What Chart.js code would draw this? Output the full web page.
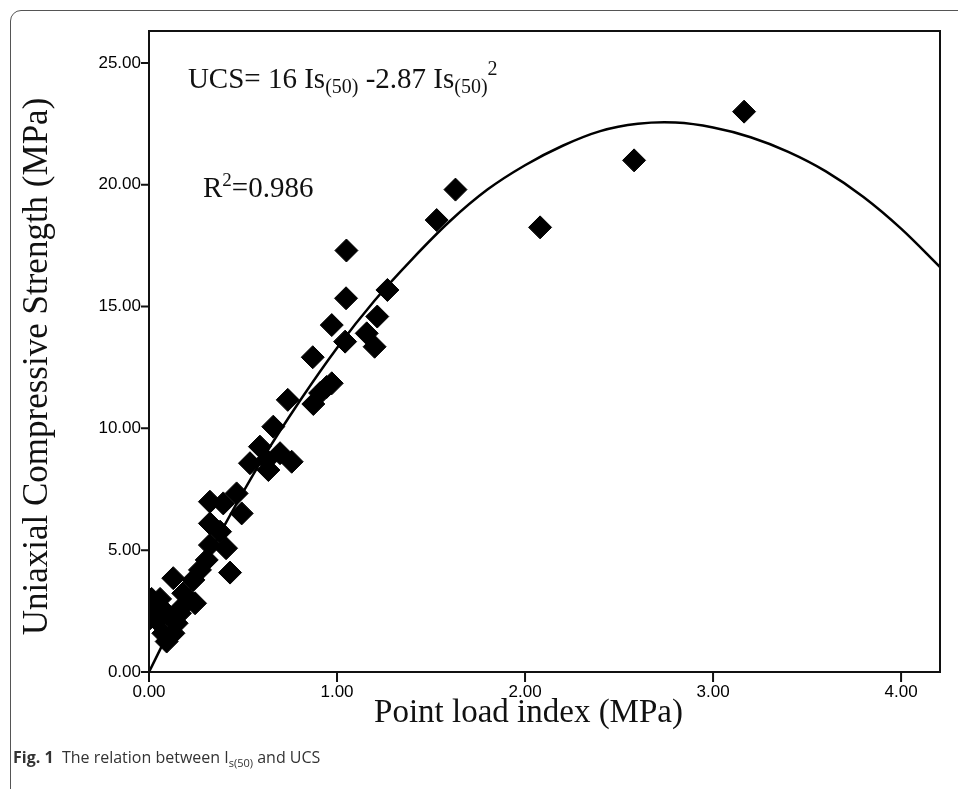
<!DOCTYPE html>
<html>
<head>
<meta charset="utf-8">
<script src="https://cdn.jsdelivr.net/npm/chart.js@4.4.1/dist/chart.umd.min.js"></script>
<style>
  body { margin: 0; background: #fff; }
  #frame { position: absolute; left: 10px; top: 10px; width: 1000px; height: 900px;
           border: 1.5px solid #555; border-radius: 11px; }
  #chart { position: absolute; left: 0; top: 0; }
  #caption { position: absolute; left: 13px; top: 746px; font-family: "Open Sans", sans-serif;
             font-size: 16px; color: #333; }
  #caption sub { font-size: 11px; }
</style>
</head>
<body>
<div id="frame"></div>
<canvas id="chart" width="958" height="789"></canvas>
<div id="caption"><b>Fig. 1</b>&nbsp; The relation between I<sub>s(50)</sub> and UCS</div>
<script>
// measured points: point load index Is(50) (MPa) vs UCS (MPa)
var isValues = [3.165, 2.58, 2.08, 1.63, 1.53, 1.05, 1.048, 1.268, 1.214, 1.158, 1.2, 0.972, 1.043,
  0.871, 0.972, 0.91, 0.874, 0.945, 0.738, 0.661, 0.59, 0.537, 0.635, 0.697, 0.759, 0.626,
  0.324, 0.466, 0.395, 0.493, 0.324, 0.378, 0.324, 0.41, 0.431, 0.307, 0.271, 0.129, 0.236,
  0.245, 0.182, 0.023, 0.059, 0.094, 0.147, 0.13, 0.094, 0.04, 0.005, 0.165, 0.076, 0.014, 0.18];
var ucsValues = [23.0, 21.0, 18.25, 19.8, 18.55, 17.3, 15.34, 15.68, 14.59, 13.9, 13.35, 14.24, 13.56,
  12.92, 11.85, 11.45, 11.0, 11.7, 11.17, 10.07, 9.25, 8.57, 8.29, 8.98, 8.63, 8.7,
  6.99, 7.33, 6.92, 6.51, 6.1, 5.76, 5.21, 5.08, 4.08, 4.6, 4.19, 3.85, 3.78,
  2.82, 3.23, 2.68, 3.0, 2.41, 2.0, 1.59, 1.25, 2.13, 2.2, 2.41, 1.59, 3.0, 2.7];

// fitted curve as drawn
var curveX = [0, 0.2, 0.4, 0.6, 0.8, 1.0, 1.2, 1.4, 1.6, 1.8, 2.0, 2.2, 2.4, 2.6, 2.8, 3.0, 3.2, 3.4, 3.6, 3.8, 4.0, 4.21];
var curveY = [0, 3.1, 6.0, 8.7, 11.1, 13.3, 15.25, 16.95, 18.5, 19.8, 20.8, 21.6, 22.2, 22.5, 22.55, 22.35, 21.95, 21.35, 20.55, 19.5, 18.2, 16.6];

var xTicks = [0, 1, 2, 3, 4];
var yTicks = [0, 5, 10, 15, 20, 25];

var xTitle = 'Point load index (MPa)';
var yTitle = 'Uniaxial Compressive Strength (MPa)';

function toPoints(xs, ys) {
    var pts = [];
    for (var i = 0; i < xs.length; i++) {
        pts.push({x: xs[i], y: ys[i]});
    }
    return pts;
}

function drawParts(ctx, x, y, parts) {
    for (var k = 0; k < parts.length; k++) {
        var p = parts[k];
        ctx.font = p[1] + 'px "Liberation Serif"';
        ctx.fillText(p[0], x, y + p[2]);
        x += ctx.measureText(p[0]).width;
    }
}

var framePlugin = {
    id: 'framePlugin',
    afterDraw: function(chart) {
        var ctx = chart.ctx;
        var a = chart.chartArea;
        var sx = chart.scales.x, sy = chart.scales.y;
        ctx.save();
        ctx.strokeStyle = '#111';
        ctx.lineWidth = 2;
        ctx.strokeRect(a.left, a.top, a.right - a.left, a.bottom - a.top);
        // tick marks outside the frame
        ctx.beginPath();
        xTicks.forEach(function(v) {
            var px = sx.getPixelForValue(v);
            ctx.moveTo(px, a.bottom);
            ctx.lineTo(px, a.bottom + 10);
        });
        yTicks.forEach(function(v) {
            var py = sy.getPixelForValue(v);
            ctx.moveTo(a.left, py);
            ctx.lineTo(a.left - 8, py);
        });
        ctx.stroke();

        ctx.fillStyle = '#111';
        ctx.textBaseline = 'alphabetic';
        ctx.textAlign = 'left';
        drawParts(ctx, sx.getPixelForValue(0.207), sy.getPixelForValue(23.97), [
            ['UCS= 16 Is', 29, 0], ['(50)', 20, 5], [' -2.87 Is', 29, 0], ['(50)', 20, 5], ['2', 20, -13]
        ]);
        drawParts(ctx, sx.getPixelForValue(0.287), sy.getPixelForValue(19.5), [
            ['R', 29, 0], ['2', 19, -11], ['=0.986', 29, 0]
        ]);
        // axis titles
        ctx.textAlign = 'center';
        ctx.textBaseline = 'middle';
        ctx.font = '33px "Liberation Serif"';
        ctx.fillText(xTitle, (a.left + a.right) / 2 - 16, a.bottom + 41);
        ctx.translate(38, (a.top + a.bottom) / 2 + 15);
        ctx.rotate(-Math.PI / 2);
        ctx.font = '35px "Liberation Serif"';
        ctx.fillText(yTitle, 0, 0);
        ctx.restore();
    }
};

var tickFont = {family: '"Liberation Sans"', size: 17};

var ctx = document.getElementById('chart');
var chart = new Chart(ctx, {
    type: 'scatter',
    data: {
        datasets: [{
            label: 'UCS',
            data: toPoints(isValues, ucsValues),
            pointStyle: 'rectRot',
            pointRadius: 11.5,
            pointHoverRadius: 11.5,
            backgroundColor: '#000',
            borderColor: '#000',
            borderWidth: 1,
            clip: 0
        }, {
            type: 'line',
            label: 'fit',
            data: toPoints(curveX, curveY),
            borderColor: '#000',
            borderWidth: 2.5,
            pointRadius: 0,
            tension: 0.35,
            fill: false
        }]
    },
    options: {
        responsive: false,
        animation: false,
        devicePixelRatio: 1,
        layout: { padding: {top: 31, right: 18, left: 0, bottom: 0} },
        plugins: { legend: {display: false}, tooltip: {enabled: false} },
        scales: {
            x: {
                type: 'linear',
                min: 0,
                max: 4.207,
                afterFit: function(scale) { scale.height = 117; },
                afterBuildTicks: function(scale) {
                    scale.ticks = xTicks.map(function(v) { return {value: v}; });
                },
                grid: { display: false, tickLength: 10 },
                border: { display: true, color: '#111', width: 2 },
                ticks: { font: tickFont, color: '#000', padding: 0, maxRotation: 0,
                         callback: function(v) { return v.toFixed(2); } },
                title: { display: false }
            },
            y: {
                type: 'linear',
                min: 0,
                max: 26.31,
                afterFit: function(scale) { scale.width = 149; },
                afterBuildTicks: function(scale) {
                    scale.ticks = yTicks.map(function(v) { return {value: v}; });
                },
                grid: { display: false, tickLength: 8 },
                border: { display: true, color: '#111', width: 2 },
                ticks: { font: tickFont, color: '#000', padding: 0,
                         callback: function(v) { return v.toFixed(2); } },
                title: { display: false }
            }
        }
    },
    plugins: [framePlugin]
});
</script>
</body>
</html>
